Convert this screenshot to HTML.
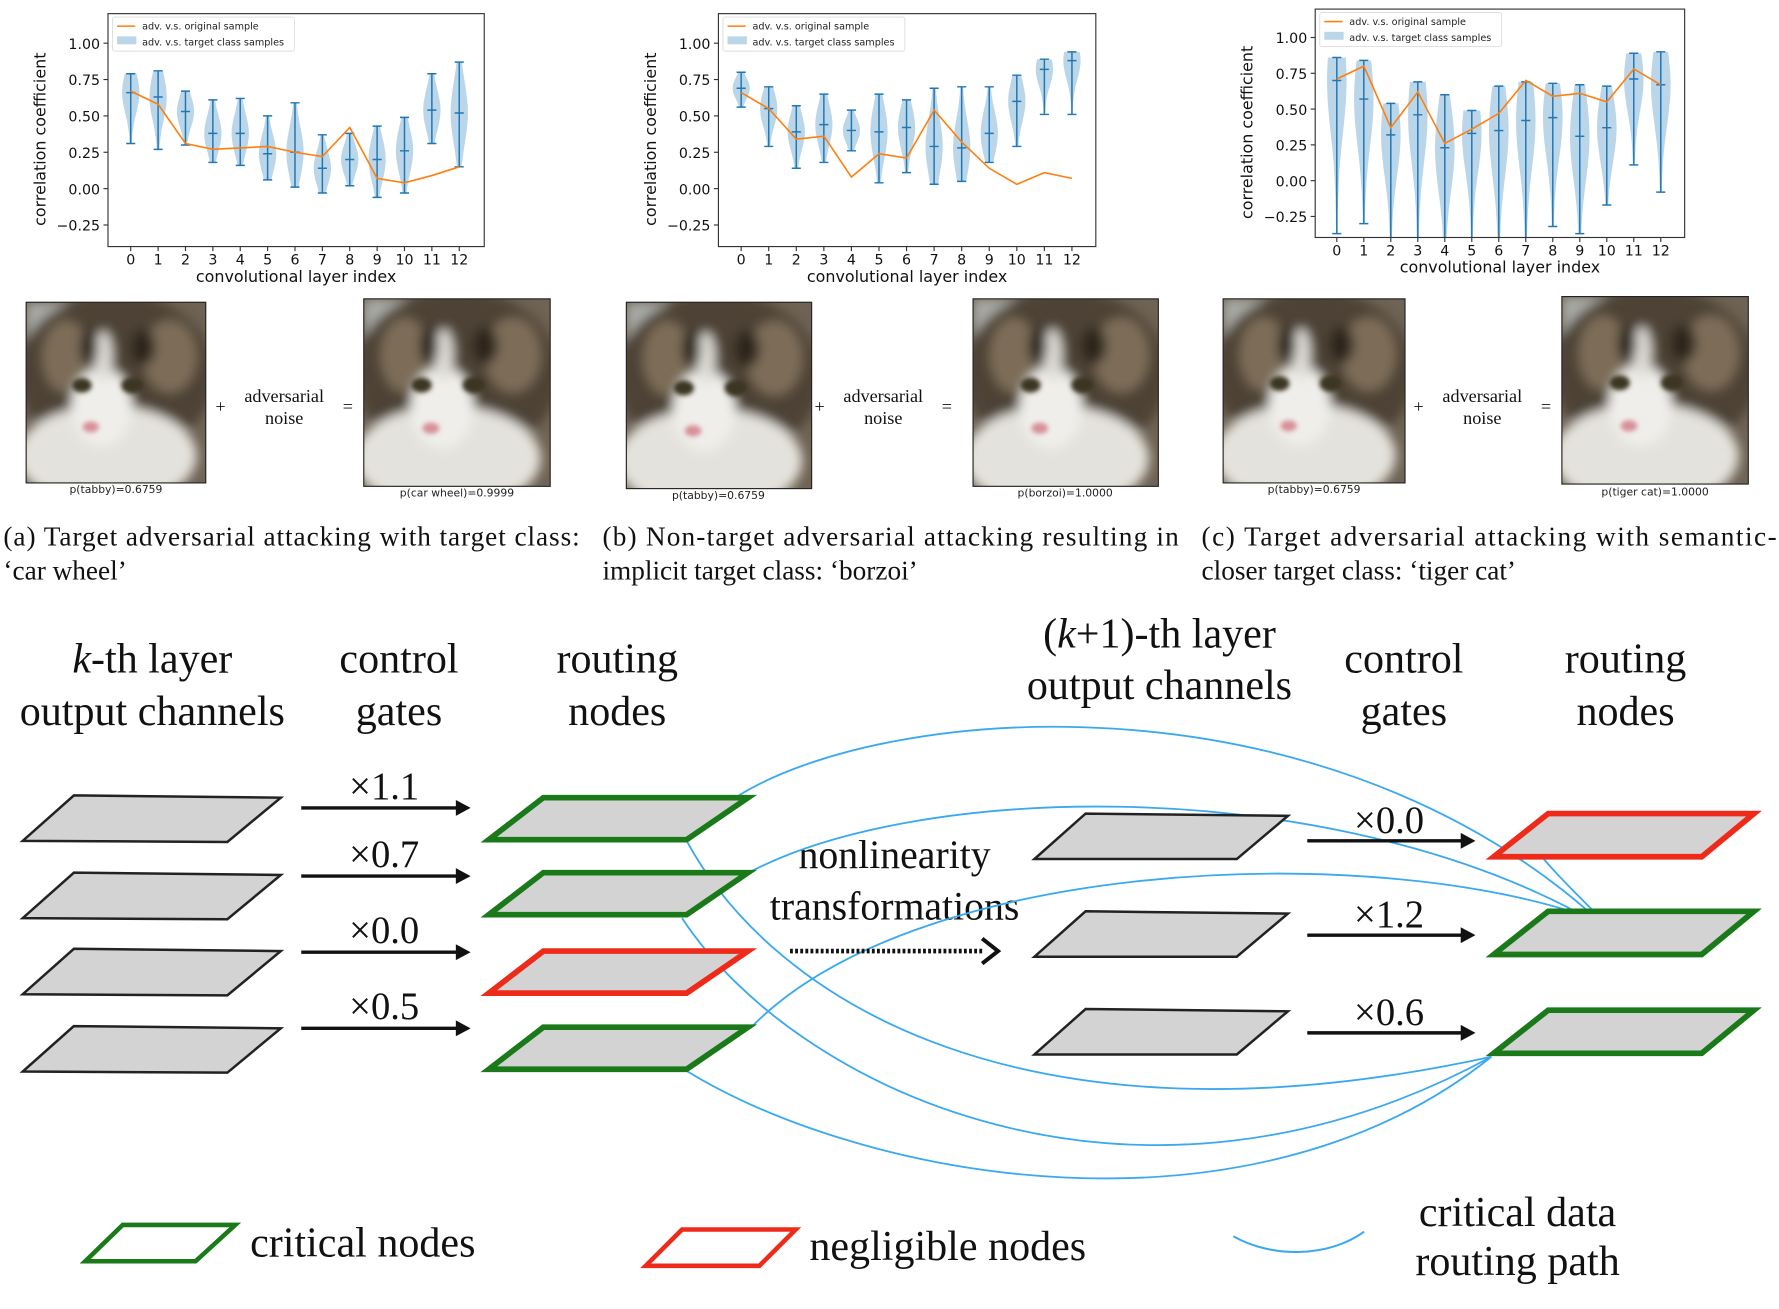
<!DOCTYPE html>
<html><head><meta charset="utf-8"><style>
html,body{margin:0;padding:0;background:#fff;}
svg{display:block;}
</style></head><body>
<svg id="fig" width="1779" height="1309" viewBox="0 0 1565 1152" preserveAspectRatio="none" xmlns="http://www.w3.org/2000/svg">
<defs>
<filter id="blur" x="-20%" y="-20%" width="140%" height="140%"><feGaussianBlur stdDeviation="5"/></filter>
<filter id="blur2"><feGaussianBlur stdDeviation="2"/></filter>
</defs>
<g id="charts"></g>
<g id="photos"></g>
<g id="captions" font-family="Liberation Serif, serif" font-size="24" fill="#111">
<text x="3" y="480" textLength="507" lengthAdjust="spacing">(a) Target adversarial attacking with target class:</text>
<text x="3" y="510">‘car wheel’</text>
<text x="530" y="480" textLength="507" lengthAdjust="spacing">(b) Non-target adversarial attacking resulting in</text>
<text x="530" y="510">implicit target class: ‘borzoi’</text>
<text x="1057" y="480" textLength="506" lengthAdjust="spacing">(c) Target adversarial attacking with semantic-</text>
<text x="1057" y="510">closer target class: ‘tiger cat’</text>
</g>
<g id="diagram" font-family="Liberation Serif, serif" fill="#111" text-anchor="middle" font-size="37">
<text x="134" y="592"><tspan font-style="italic">k</tspan>-th layer</text>
<text x="134" y="638">output channels</text>
<text x="351" y="592">control</text>
<text x="351" y="638">gates</text>
<text x="543" y="592">routing</text>
<text x="543" y="638">nodes</text>
<text x="1020" y="570">(<tspan font-style="italic">k</tspan>+1)-th layer</text>
<text x="1020" y="615">output channels</text>
<text x="1235" y="592">control</text>
<text x="1235" y="638">gates</text>
<text x="1430" y="592">routing</text>
<text x="1430" y="638">nodes</text>
<text x="787" y="764" font-size="35">nonlinearity</text>
<text x="787" y="809" font-size="35">transformations</text>
</g>
</svg>
<script>
// ---------- chart data ----------
const layers = [0,1,2,3,4,5,6,7,8,9,10,11,12];
const yTicks = [1.00,0.75,0.50,0.25,0.00,-0.25];
const yTickLabels = ["1.00","0.75","0.50","0.25","0.00","\u22120.25"];
const aMin = [0.31,0.27,0.30,0.18,0.16,0.06,0.01,-0.03,0.02,-0.06,-0.03,0.31,0.15];
const aMed = [0.66,0.63,0.53,0.38,0.38,0.24,0.25,0.14,0.20,0.20,0.26,0.54,0.52];
const aMax = [0.79,0.81,0.67,0.61,0.62,0.50,0.59,0.37,0.38,0.43,0.49,0.79,0.87];
const aOrig = [0.67,0.58,0.31,0.27,0.28,0.29,0.25,0.22,0.42,0.07,0.04,0.09,0.15];
const bMin = [0.56,0.29,0.14,0.18,0.26,0.04,0.11,0.03,0.05,0.18,0.29,0.51,0.51];
const bMed = [0.69,0.55,0.39,0.44,0.40,0.39,0.42,0.29,0.28,0.38,0.60,0.82,0.88];
const bMax = [0.80,0.70,0.57,0.65,0.54,0.65,0.61,0.69,0.70,0.70,0.78,0.89,0.94];
const bOrig = [0.66,0.55,0.34,0.36,0.08,0.24,0.21,0.54,0.32,0.14,0.03,0.11,0.07];
const cMin = [-0.37,-0.30,-0.45,-0.45,-0.45,-0.45,-0.45,-0.45,-0.32,-0.37,-0.17,0.11,-0.08];
const cMed = [0.70,0.57,0.32,0.46,0.23,0.33,0.35,0.42,0.44,0.31,0.37,0.71,0.67];
const cMax = [0.86,0.84,0.54,0.69,0.60,0.49,0.66,0.69,0.68,0.67,0.66,0.89,0.90];
const cOrig = [0.71,0.80,0.37,0.62,0.26,0.36,0.47,0.70,0.59,0.61,0.55,0.78,0.67];

const NS = "http://www.w3.org/2000/svg";
function mk(tag, attrs, parent){const e=document.createElementNS(NS,tag);for(const k in attrs)e.setAttribute(k,attrs[k]);if(parent)parent.appendChild(e);return e;}

const chartsG = document.getElementById('charts');
const chartSpecs = [
 {id:'a', box:[95,12,426,217], x0:115, x12:404, y1:38, y0:166, mins:aMin, meds:aMed, maxs:aMax, orig:aOrig, ylab:40, vw:7},
 {id:'b', box:[632,12,964,217], x0:652, x12:943, y1:38, y0:166, mins:bMin, meds:bMed, maxs:bMax, orig:bOrig, ylab:577, vw:7},
 {id:'c', box:[1157,8,1482,209], x0:1176, x12:1461, y1:33, y0:159, mins:cMin, meds:cMed, maxs:cMax, orig:cOrig, ylab:1102, vw:8}
];
chartSpecs.forEach(s=>{
  const g = mk('g',{},chartsG);
  
  
  const [L,T,R,B] = s.box;
  const xs = v => s.x0 + (s.x12 - s.x0) * v / 12;
  const ys = v => s.y0 - (s.y0 - s.y1) * v;
  const cp = mk('clipPath',{id:'clip-'+s.id},g); mk('rect',{x:L,y:T,width:R-L,height:B-T},cp);
  const plot = mk('g',{'clip-path':'url(#clip-'+s.id+')'},g);
  layers.forEach((l,i)=>{
    const cx = xs(l), lo=s.mins[i], hi=s.maxs[i], md=s.meds[i];
    const sd = Math.max((hi-lo)/3.4, 0.05);
    let left=[], right=[];
    const n=24;
    for(let k=0;k<=n;k++){
      const v = lo + (hi-lo)*k/n;
      const w = s.vw*Math.exp(-Math.pow((v-md)/sd,2)/2)+0.6;
      right.push([cx+w, ys(v)]); left.unshift([cx-w, ys(v)]);
    }
    const pts = right.concat(left).map(p=>p[0].toFixed(1)+','+p[1].toFixed(1)).join(' ');
    const vi = mk('polygon',{points:pts,fill:'#1f77b4','fill-opacity':'0.3',stroke:'none'},plot);
    
    
    const st={stroke:'#1f77b4','stroke-width':'1.3'};
    mk('line',Object.assign({x1:cx,x2:cx,y1:ys(lo),y2:ys(hi)},st),plot);
    [lo,md,hi].forEach(v=>mk('line',Object.assign({x1:cx-4,x2:cx+4,y1:ys(v),y2:ys(v)},st),plot));
  });
  const op = layers.map((l,i)=>xs(l).toFixed(1)+','+ys(s.orig[i]).toFixed(1)).join(' ');
  const ol = mk('polyline',{points:op,fill:'none',stroke:'#ff7f0e','stroke-width':'1.4'},plot);
  
  
  mk('rect',{x:L,y:T,width:R-L,height:B-T,fill:'none',stroke:'#333','stroke-width':'1'},g);
  yTicks.forEach((v,i)=>{
    const y=ys(v); if(y<T||y>B) return;
    mk('line',{x1:L-4,x2:L,y1:y,y2:y,stroke:'#333','stroke-width':'1'},g);
    const t=mk('text',{x:L-7,y:y+5,'text-anchor':'end','font-family':'DejaVu Sans, Liberation Sans, sans-serif','font-size':'12.5',fill:'#111'},g);
    t.textContent=yTickLabels[i];
    
    
  });
  layers.forEach(l=>{
    const x=xs(l);
    mk('line',{x1:x,x2:x,y1:B,y2:B+4,stroke:'#333','stroke-width':'1'},g);
    const t=mk('text',{x:x,y:B+16,'text-anchor':'middle','font-family':'DejaVu Sans, Liberation Sans, sans-serif','font-size':'12.5',fill:'#111'},g);
    t.textContent=String(l);
    
    
  });
  const xt=mk('text',{x:(L+R)/2,y:B+31,'text-anchor':'middle','font-family':'DejaVu Sans, Liberation Sans, sans-serif','font-size':'14',fill:'#111'},g);
  xt.textContent='convolutional layer index';
  
  
  const yc=(T+B)/2+8;
  const yt=mk('text',{x:s.ylab,y:yc,'text-anchor':'middle','font-family':'DejaVu Sans, Liberation Sans, sans-serif','font-size':'14',fill:'#111',transform:'rotate(-90 '+s.ylab+' '+yc+')'},g);
  yt.textContent='correlation coefficient';
  
  
  const lg=mk('g',{},g);
  
  
  mk('rect',{x:L+4,y:T+3,width:160,height:30,rx:2,fill:'#fff',stroke:'#ddd','stroke-width':'0.8'},lg);
  mk('line',{x1:L+8,x2:L+24,y1:T+11,y2:T+11,stroke:'#ff7f0e','stroke-width':'1.4'},lg);
  mk('rect',{x:L+8,y:T+20,width:17,height:7,fill:'#1f77b4','fill-opacity':'0.3'},lg);
  const t1=mk('text',{x:L+30,y:T+14,'font-family':'DejaVu Sans, Liberation Sans, sans-serif','font-size':'8.5',fill:'#222'},lg); t1.textContent='adv. v.s. original sample';
  const t2=mk('text',{x:L+30,y:T+28,'font-family':'DejaVu Sans, Liberation Sans, sans-serif','font-size':'8.5',fill:'#222'},lg); t2.textContent='adv. v.s. target class samples';
});

// ---------- photos ----------
const photosG=document.getElementById('photos');
let pc=0;
function cat(x,y,w,h,name){
  pc++;
  const g=mk('g',{},photosG);
  
  
  const cp=mk('clipPath',{id:'pc'+pc},g); mk('rect',{x:x,y:y,width:w,height:h},cp);
  const c=mk('g',{'clip-path':'url(#pc'+pc+')'},g);
  const X=f=>x+w*f, Y=f=>y+h*f;
  mk('rect',{x:x,y:y,width:w,height:h,fill:'#6e6354'},c);
  const b=mk('g',{filter:'url(#blur)'},c);
  mk('rect',{x:x,y:y,width:w*0.25,height:h*0.35,fill:'#a9aaa6'},b);
  mk('ellipse',{cx:X(0.5),cy:Y(0.4),rx:w*0.55,ry:h*0.45,fill:'#4e4336'},b);
  mk('ellipse',{cx:X(0.22),cy:Y(0.3),rx:w*0.13,ry:h*0.2,fill:'#7d6d58'},b);
  mk('ellipse',{cx:X(0.8),cy:Y(0.3),rx:w*0.15,ry:h*0.2,fill:'#7d6d58'},b);
  mk('ellipse',{cx:X(0.45),cy:Y(0.85),rx:w*0.5,ry:h*0.28,fill:'#e4e2dc'},b);
  mk('ellipse',{cx:X(0.42),cy:Y(0.58),rx:w*0.17,ry:h*0.22,fill:'#efeeea'},b);
  mk('ellipse',{cx:X(0.43),cy:Y(0.3),rx:w*0.05,ry:h*0.14,fill:'#dedcd5'},b);
  mk('ellipse',{cx:X(0.65),cy:Y(0.25),rx:w*0.07,ry:h*0.1,fill:'#2e261f'},b);
  mk('ellipse',{cx:X(0.35),cy:Y(0.25),rx:w*0.05,ry:h*0.1,fill:'#2e261f'},b);
  const d=mk('g',{filter:'url(#blur2)'},c);
  mk('ellipse',{cx:X(0.31),cy:Y(0.46),rx:w*0.055,ry:h*0.04,fill:'#3b3520'},d);
  mk('ellipse',{cx:X(0.59),cy:Y(0.46),rx:w*0.06,ry:h*0.045,fill:'#3b3520'},d);
  mk('ellipse',{cx:X(0.36),cy:Y(0.69),rx:w*0.045,ry:h*0.03,fill:'#d88f98'},d);
  mk('rect',{x:x,y:y,width:w,height:h,fill:'none',stroke:'#222','stroke-width':'1'},g);
}
const photoBoxes=[[23,266,158,159,'photo-a-original'],[320,263,164,165,'photo-a-adversarial'],[551,266,163,164,'photo-b-original'],[856,263,163,165,'photo-b-adversarial'],[1076,263,160,162,'photo-c-original'],[1374,261,164,165,'photo-c-adversarial']];
photoBoxes.forEach(p=>cat(p[0],p[1],p[2],p[3],p[4]));
const plabels=[[102,434,'p(tabby)=0.6759'],[402,437,'p(car wheel)=0.9999'],[632,439,'p(tabby)=0.6759'],[937,437,'p(borzoi)=1.0000'],[1156,434,'p(tabby)=0.6759'],[1456,436,'p(tiger cat)=1.0000']];
plabels.forEach(p=>{const t=mk('text',{x:p[0],y:p[1],'text-anchor':'middle','font-family':'DejaVu Sans, Liberation Sans, sans-serif','font-size':'9.5',fill:'#222'},photosG);t.textContent=p[2];
  
  });
[[194,250,306],[721,777,833],[1248,1304,1360]].forEach(a=>{
  const f={'font-family':'Liberation Serif, serif',fill:'#111','text-anchor':'middle'};
  const p=mk('text',Object.assign({x:a[0],y:363,'font-size':'16'},f),photosG);p.textContent='+';
  const t1=mk('text',Object.assign({x:a[1],y:354,'font-size':'16'},f),photosG);t1.textContent='adversarial';
  
  
  const t2=mk('text',Object.assign({x:a[1],y:373,'font-size':'16'},f),photosG);t2.textContent='noise';
  const e=mk('text',Object.assign({x:a[2],y:363,'font-size':'16'},f),photosG);e.textContent='=';
});

// ---------- diagram ----------
const dg=document.getElementById('diagram');
function para(pts,stroke,sw,name,fill){
  const p=mk('polygon',{points:pts.map(q=>q.join(',')).join(' '),fill:fill||'#d3d3d3',stroke:stroke,'stroke-width':sw,'stroke-linejoin':'miter'},dg);
  
  
}
const curves=[
 'M650,700 C780,620 1150,590 1395,800',
 'M655,770 C800,690 1150,680 1382,800',
 'M660,905 C800,760 1180,740 1382,802',
 'M604,740 C680,880 900,1020 1312,930',
 'M600,808 C700,960 1000,1100 1312,930',
 'M600,940 C760,1040 1100,1100 1312,930',
 'M1400,800 C1380,780 1360,760 1345,740'
];
curves.forEach((d,i)=>{const c=mk('path',{d:d,fill:'none',stroke:'#3aa9ee','stroke-width':'1.6'},dg);
  
  });
[700,768,835,903].forEach((y,i)=>para([[65,y],[247,y+2],[200,y+41],[20,y+40]],'#222','2.2','kth-channel-'+i));
const gates1=['×1.1','×0.7','×0.0','×0.5'];
const states1=['g','g','r','g'];
function arrow(x1,x2,y,name){
  mk('line',{x1:x1,x2:x2-10,y1:y,y2:y,stroke:'#111','stroke-width':'3'},dg);
  const h=mk('polygon',{points:`${x2},${y} ${x2-13},${y-7} ${x2-13},${y+7}`,fill:'#111'},dg);
  
  
}
[711,771,838,905].forEach((y,i)=>{arrow(265,414,y,'gate-arrow-'+i);
  const t=mk('text',{x:338,y:y-8,'font-size':'34'},dg);t.textContent=gates1[i];
  
  });
[702,768,837,904].forEach((y,i)=>para([[478,y],[658,y],[604,y+37],[430,y+37]],states1[i]=='g'?'#1a7a1a':'#ee2a1a','5','routing-node-'+i));
[716,802,888].forEach((y,i)=>para([[955,y],[1133,y+2],[1088,y+40],[910,y+40]],'#222','2.2','k1-channel-'+i));
const gates2=['×0.0','×1.2','×0.6'];
[740,823,909].forEach((y,i)=>{arrow(1150,1298,y,'gate2-arrow-'+i);
  const t=mk('text',{x:1222,y:y-7,'font-size':'34'},dg);t.textContent=gates2[i];
  
  });
const states2=['r','g','g'];
[716,802,889].forEach((y,i)=>para([[1362,y],[1543,y],[1497,y+38],[1314,y+38]],states2[i]=='g'?'#1a7a1a':'#ee2a1a','5','routing-node-2-'+i));
mk('line',{x1:695,x2:866,y1:837,y2:837,stroke:'#111','stroke-width':'4','stroke-dasharray':'2.5 2'},dg);
const da=mk('polyline',{points:'864,826 878,837 864,848',fill:'none',stroke:'#111','stroke-width':'3.5'},dg);


const lgd=mk('g',{'text-anchor':'start','font-size':'37'},dg);


mk('polygon',{points:'108,1078 207,1078 172,1110 75,1110',fill:'none',stroke:'#1a7a1a','stroke-width':'4'},lgd);
const l1=mk('text',{x:220,y:1106},lgd);l1.textContent='critical nodes';
mk('polygon',{points:'600,1082 700,1082 668,1114 568,1114',fill:'none',stroke:'#ee2a1a','stroke-width':'4'},lgd);
const l2=mk('text',{x:712,y:1109},lgd);l2.textContent='negligible nodes';
mk('path',{d:'M1085,1088 C1120,1108 1170,1106 1200,1084',fill:'none',stroke:'#3aa9ee','stroke-width':'1.8'},lgd);
const l3=mk('text',{x:1335,y:1079,'text-anchor':'middle'},lgd);l3.textContent='critical data';
const l4=mk('text',{x:1335,y:1122,'text-anchor':'middle'},lgd);l4.textContent='routing path';
</script>
</body></html>
